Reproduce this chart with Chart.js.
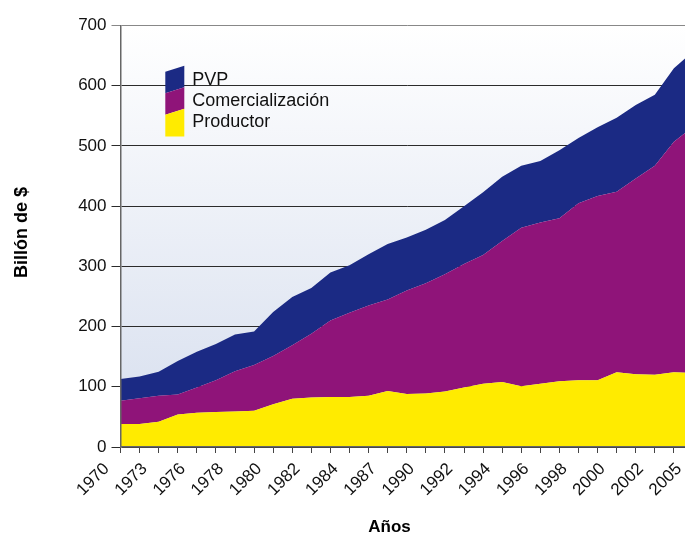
<!DOCTYPE html>
<html>
<head>
<meta charset="utf-8">
<script src="https://cdn.jsdelivr.net/npm/chart.js@4/dist/chart.umd.min.js"></script>
<style>
html,body{margin:0;padding:0;background:#fff;overflow:hidden;}
#wrap{position:relative;width:693px;height:534px;}
</style>
</head>
<body>
<div id="wrap"><canvas id="c"></canvas></div>
<script>
// ---- data ----
const years = ['1970','','1973','','1976','','1978','','1980','','1982','','1984','','1987','',
               '1990','','1992','','1994','','1996','','1998','','2000','','2002','','2005'];
const productor        = [38, 38, 42, 54, 57, 58, 59, 60, 71, 80, 82, 83, 83, 85, 93, 88,
                          89, 92, 99,105,108,101,105,109,111,111,124,121,120,124,123];
const comercializacion = [39, 43, 43, 33, 42, 53, 67, 76, 80, 89,106,127,140,150,152,172,
                         183,195,205,214,234,263,268,271,294,306,300,325,347,383,409];
const pvp              = [36, 36, 40, 56, 59, 60, 61, 56, 73, 80, 76, 80, 79, 85, 92, 88,
                          89, 90, 96,104,107,103,102,113,108,114,123,122,118,122,125];
const seriesNames = ['Productor', 'Comercialización', 'PVP'];
const yAxisTitle = 'Billón de $';
const xAxisTitle = 'Años';

const FONT = "'Liberation Sans', Arial, Helvetica, sans-serif";
Chart.defaults.font.family = FONT;

const bgPlugin = {
  id: 'bg',
  beforeDraw(chart) {
    const {ctx, chartArea: {left, top, right, bottom}} = chart;
    const g = ctx.createLinearGradient(0, top, 0, bottom);
    g.addColorStop(0, '#ffffff');
    g.addColorStop(1, '#d6deee');
    ctx.save();
    ctx.fillStyle = g;
    ctx.fillRect(left, top, right - left, bottom - top);
    ctx.restore();
  }
};

const legendPlugin = {
  id: 'slantLegend',
  afterDraw(chart) {
    const {ctx, chartArea} = chart;
    const ds = chart.data.datasets.slice().reverse();
    const x0 = chartArea.left + 44.8, w = 19, slant = 6, band = 21.5;
    const yTop = chartArea.top + 46.3;
    const yBottom = chartArea.top + 111;
    ctx.save();
    ds.forEach((d, k) => {
      const tl = yTop + k * band;
      const bl = (k === ds.length - 1) ? yBottom : tl + band;
      const br = (k === ds.length - 1) ? yBottom : tl + band - slant;
      ctx.beginPath();
      ctx.moveTo(x0, tl);
      ctx.lineTo(x0 + w, tl - slant);
      ctx.lineTo(x0 + w, br);
      ctx.lineTo(x0, bl);
      ctx.closePath();
      ctx.fillStyle = d.backgroundColor;
      ctx.fill();
      ctx.fillStyle = '#111';
      ctx.font = "18px " + FONT;
      ctx.textAlign = 'left';
      ctx.textBaseline = 'alphabetic';
      ctx.fillText(d.label, x0 + 27, chartArea.top + 59.3 + k * 21.3);
    });
    ctx.restore();
  }
};

const titlePlugin = {
  id: 'axisTitles',
  afterDraw(chart) {
    const {ctx, chartArea} = chart;
    ctx.save();
    ctx.fillStyle = '#000';
    ctx.font = "bold 17px " + FONT;
    ctx.textAlign = 'center';
    ctx.textBaseline = 'alphabetic';
    ctx.fillText(xAxisTitle, chartArea.left + 269, chartArea.bottom + 84.5);
    ctx.translate(26.5, chartArea.top + 252.6);
    ctx.rotate(-Math.PI / 2);
    ctx.textAlign = 'left';
    ctx.font = "bold 18px " + FONT;
    ctx.fillText(yAxisTitle, 0, 0);
    ctx.restore();
  }
};

new Chart(document.getElementById('c'), {
  type: 'line',
  data: {
    labels: years,
    datasets: [
      {label: seriesNames[0], data: productor, backgroundColor: '#ffeb00', fill: 'origin'},
      {label: seriesNames[1], data: comercializacion, backgroundColor: '#8f1479', fill: '-1'},
      {label: seriesNames[2], data: pvp, backgroundColor: '#1b2a84', fill: '-1'}
    ]
  },
  options: {
    responsive: true,
    maintainAspectRatio: false,
    animation: false,
    layout: {padding: {top: 25.5, left: 0, right: 0, bottom: 0}},
    elements: {
      line: {tension: 0, borderWidth: 0, borderColor: 'rgba(0,0,0,0)'},
      point: {radius: 0, hoverRadius: 0}
    },
    plugins: {
      legend: {display: false},
      tooltip: {enabled: false},
      filler: {propagate: false}
    },
    scales: {
      x: {
        type: 'category',
        offset: false,
        grid: {drawOnChartArea: false, drawTicks: true, tickLength: 6, color: '#444', lineWidth: 1, z: 1},
        border: {display: true, color: '#666', width: 1.5, z: 1},
        ticks: {
          autoSkip: false, maxRotation: 45, minRotation: 45,
          padding: 6, labelOffset: -14,
          color: '#111', font: {size: 17}
        },
        afterFit(scale) { scale.height = 87; scale.paddingRight = 0; scale.paddingLeft = 0; }
      },
      y: {
        stacked: true,
        min: 0, max: 700,
        ticks: {stepSize: 100, padding: 5, color: '#111', font: {size: 17}},
        grid: {
          drawTicks: true, tickLength: 9, lineWidth: 1,
          color: (c) => (c.tick && c.tick.value === 700) ? '#888' : '#2b2b2b'
        },
        border: {display: true, color: '#666', width: 1.5, z: 1},
        afterFit(scale) { scale.width = 120.5; }
      }
    }
  },
  plugins: [bgPlugin, legendPlugin, titlePlugin]
});
</script>
</body>
</html>
